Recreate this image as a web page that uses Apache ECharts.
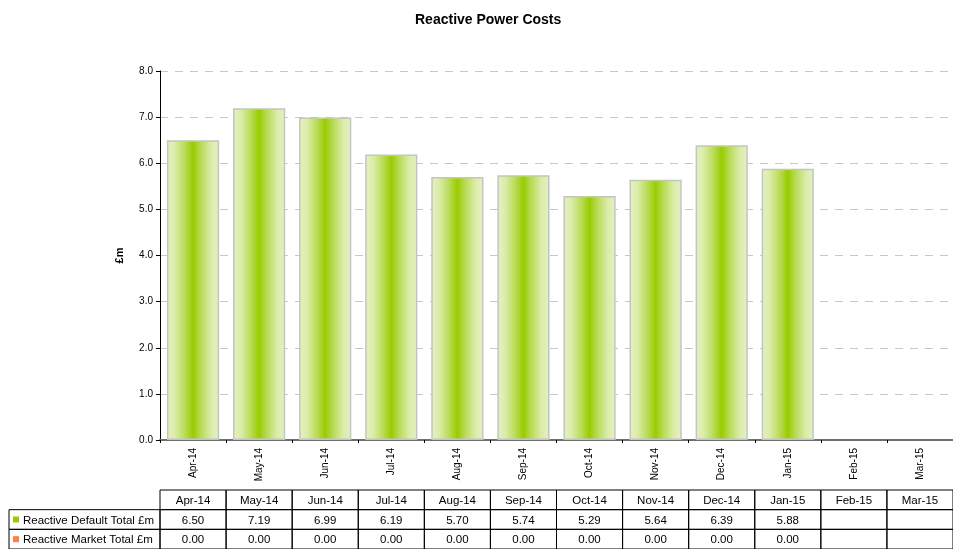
<!DOCTYPE html>
<html>
<head>
<meta charset="utf-8">
<script src="https://cdn.jsdelivr.net/npm/echarts@6/dist/echarts.min.js"></script>
<style>
  html, body { margin: 0; padding: 0; background: #fff; }
  #main { width: 953px; height: 549px; }
</style>
</head>
<body>
<div id="main"></div>
<script>
// ---------------- data ----------------
const months = ["Apr-14", "May-14", "Jun-14", "Jul-14", "Aug-14", "Sep-14",
  "Oct-14", "Nov-14", "Dec-14", "Jan-15", "Feb-15", "Mar-15"];
const defaultTotal = [6.50, 7.19, 6.99, 6.19, 5.70, 5.74, 5.29, 5.64, 6.39, 5.88, null, null];
const marketTotal = [0.00, 0.00, 0.00, 0.00, 0.00, 0.00, 0.00, 0.00, 0.00, 0.00, null, null];
const rowNames = ["Reactive Default Total £m", "Reactive Market Total £m"];
const rowColors = ["#99cc00", "#ff8040"];

const font = "'Liberation Sans', Arial, sans-serif";

// table cells: [col, row, text, kind]
const tableRows = ["hdr", "def", "mkt"];
const cells = [];
months.forEach((m, i) => {
  cells.push([i, 0, m, "cell"]);
  cells.push([i, 1, defaultTotal[i] == null ? "" : defaultTotal[i].toFixed(2), "cell"]);
  cells.push([i, 2, marketTotal[i] == null ? "" : marketTotal[i].toFixed(2), "cell"]);
});
cells.push([0, 1, rowNames[0], "label", 0]);
cells.push([0, 2, rowNames[1], "label", 1]);

const barGrad = {
  type: "linear", x: 0, y: 0, x2: 1, y2: 0,
  colorStops: [
    { offset: 0, color: "#e4f1c2" },
    { offset: 0.15, color: "#dcecaa" },
    { offset: 0.35, color: "#b8db55" },
    { offset: 0.5, color: "#99cc00" },
    { offset: 0.65, color: "#b8db55" },
    { offset: 0.85, color: "#dcecaa" },
    { offset: 1, color: "#e4f1c2" },
  ],
};

let chart = echarts.init(document.getElementById("main"));

let option = {
  animation: false,
  title: {
    text: "Reactive Power Costs",
    left: 410,
    top: 8,
    textStyle: { fontFamily: font, fontSize: 14, fontWeight: "bold", color: "#000" },
  },
  grid: [
    { left: 160, top: 71, width: 800, height: 369 },
    { left: 160, top: 490, width: 800, height: 63 },
  ],
  xAxis: [
    {
      type: "category",
      gridIndex: 0,
      data: months,
      axisLine: { lineStyle: { color: "#707070", width: 2 } },
      axisTick: { show: true, length: 3, lineStyle: { color: "#000" } },
      axisLabel: { rotate: 90, fontFamily: font, fontSize: 10, color: "#000", margin: 8 },
    },
    {
      type: "category",
      gridIndex: 1,
      data: months,
      show: false,
    },
  ],
  yAxis: [
    {
      type: "value",
      gridIndex: 0,
      min: 0,
      max: 8,
      interval: 1,
      name: "£m",
      nameLocation: "middle",
      nameGap: 35,
      nameTextStyle: { fontFamily: font, fontSize: 11, fontWeight: "bold", color: "#000" },
      axisLine: { show: true, lineStyle: { color: "#000" } },
      axisTick: { show: true, length: 4, lineStyle: { color: "#000" } },
      axisLabel: {
        fontFamily: font, fontSize: 10, color: "#000", margin: 7,
        formatter: (v) => v.toFixed(1),
      },
      splitLine: { lineStyle: { color: "#c8c8c8", type: [8, 7] } },
    },
    {
      type: "category",
      gridIndex: 1,
      data: tableRows,
      inverse: true,
      show: false,
    },
  ],
  series: [
    {
      name: rowNames[0],
      type: "bar",
      stack: "total",
      barCategoryGap: "21%",
      data: defaultTotal,
      itemStyle: { color: barGrad, borderColor: "#c4c4c4", borderWidth: 1.5 },
    },
    {
      name: rowNames[1],
      type: "bar",
      stack: "total",
      data: marketTotal,
      itemStyle: { color: rowColors[1], borderWidth: 0 },
    },
    {
      type: "custom",
      xAxisIndex: 1,
      yAxisIndex: 1,
      data: cells,
      silent: true,
      renderItem: function (params, api) {
        const c = api.value(0), r = api.value(1);
        const kind = cells[params.dataIndex][3];
        const p = api.coord([c, r]);
        const s = api.size([1, 1]);
        let x = p[0] - s[0] / 2, y = p[1] - s[1] / 2, w = s[0], h = s[1];
        const line = { stroke: "#000", fill: null, lineWidth: 1 };
        if (kind === "cell") {
          return {
            type: "group",
            children: [
              { type: "rect", shape: { x: x, y: y, width: w, height: h }, style: line },
              {
                type: "text",
                style: {
                  text: cells[params.dataIndex][2], x: p[0], y: p[1] + 1,
                  textAlign: "center", textVerticalAlign: "middle",
                  font: "11.5px " + font, fill: "#000",
                },
              },
            ],
          };
        }
        // row label cell on the left of the table
        const lw = 151;
        const ci = cells[params.dataIndex][4];
        return {
          type: "group",
          children: [
            { type: "rect", shape: { x: x - lw, y: y, width: lw, height: h }, style: line },
            {
              type: "rect",
              shape: { x: x - lw + 4, y: p[1] - 3, width: 6, height: 6 },
              style: { fill: rowColors[ci], stroke: null },
            },
            {
              type: "text",
              style: {
                text: cells[params.dataIndex][2], x: x - lw + 14, y: p[1] + 1,
                textAlign: "left", textVerticalAlign: "middle",
                font: "11.5px " + font, fill: "#000",
              },
            },
          ],
        };
      },
    },
  ],
};

chart.setOption(option);
window.onresize = function () {
  chart.resize();
};
</script>
</body>
</html>
